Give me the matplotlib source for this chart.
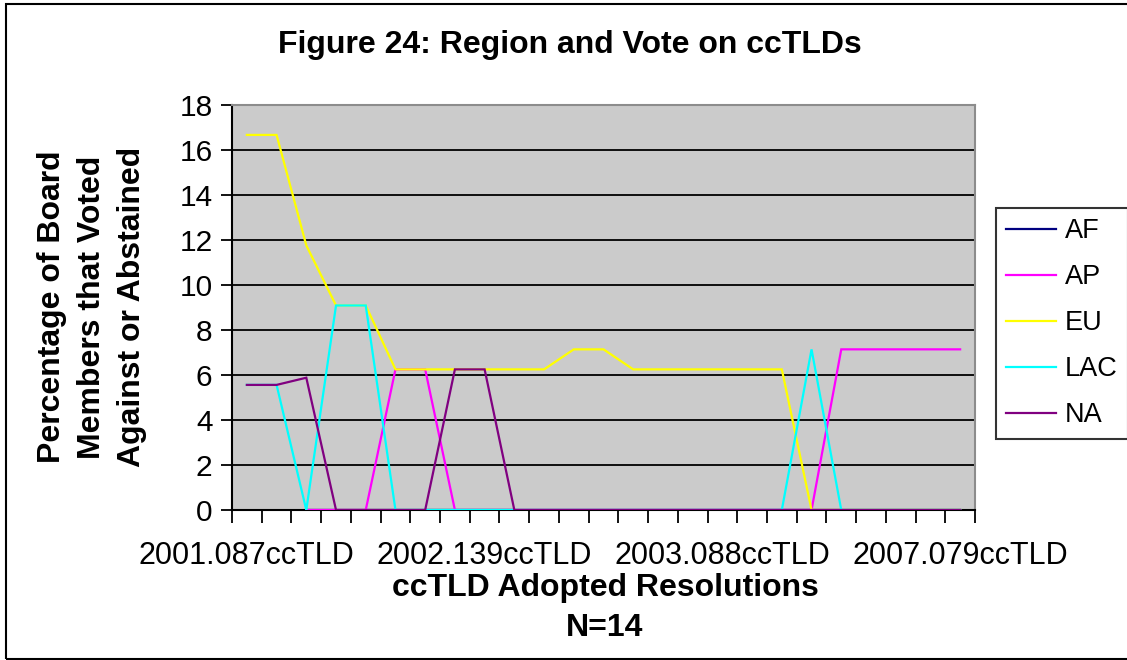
import numpy as np
import matplotlib
matplotlib.use("Agg")
import matplotlib.pyplot as plt
from matplotlib.patches import Rectangle
from matplotlib.lines import Line2D

plt.rcParams['font.family'] = ['Liberation Sans', 'DejaVu Sans']

# 25 resolutions along the x axis; only every eighth one is labelled
n_points = 25
tick_positions = [0, 8, 16, 24]
tick_labels = ["2001.087ccTLD", "2002.139ccTLD", "2003.088ccTLD", "2007.079ccTLD"]

nan = np.nan
series_names = ["AF", "AP", "EU", "LAC", "NA"]
series_colors = ["#000080", "#FF00FF", "#FFFF00", "#00FFFF", "#800080"]

AF = [nan, nan, 0, 0, 0, 0, 0, 0, 0, 0, 0, 0, 0, 0, 0, 0, 0, 0, 0, 0, 0, 0, 0, 0, 0]
AP = [nan, nan, 0, 0, 0, 6.25, 6.25, 0, 0, 0, 0, 0, 0, 0, 0, 0, 0, 0, 0, 0,
      7.14, 7.14, 7.14, 7.14, 7.14]
EU = [16.67, 16.67, 11.76, 9.09, 9.09, 6.25, 6.25, 6.25, 6.25, 6.25, 6.25, 7.14, 7.14,
      6.25, 6.25, 6.25, 6.25, 6.25, 6.25, 0, 0, 0, 0, 0, 0]
LAC = [5.56, 5.56, 0, 9.09, 9.09, 0, 0, 0, 0, 0, 0, 0, 0, 0, 0, 0, 0, 0, 0,
       7.14, 0, 0, 0, 0, 0]
NA = [5.56, 5.56, 5.88, 0, 0, 0, 0, 6.25, 6.25, 0, 0, 0, 0, 0, 0, 0, 0, 0, 0, 0,
      0, 0, 0, 0, 0]
series_values = [AF, AP, EU, LAC, NA]

W, H = 1127, 660
fig = plt.figure(figsize=(W / 100, H / 100), dpi=100)
fig.patch.set_facecolor("white")

ax = fig.add_axes([232 / W, 1 - 510 / H, (975 - 232) / W, (510 - 105) / H])
ax.set_facecolor("#CBCBCB")

x = np.arange(n_points)
for name, vals, col in zip(series_names, series_values, series_colors):
    ax.plot(x, vals, color=col, lw=1.6, label=name, zorder=3, solid_joinstyle="miter")

ax.set_xlim(-0.5, n_points - 0.5)
ax.set_ylim(0, 18)
ax.set_yticks(np.arange(0, 19, 2))
ax.yaxis.grid(True, color="black", lw=1.3, zorder=1)
ax.set_axisbelow(True)
ax.tick_params(axis="y", direction="out", length=8, width=1.3, labelsize=21.5, pad=6)

ax.set_xticks(tick_positions)
ax.set_xticklabels(tick_labels, fontsize=22)
ax.tick_params(axis="x", which="major", length=0, pad=22)
ax.set_xticks(np.arange(-0.5, n_points, 1), minor=True)
ax.tick_params(axis="x", which="minor", direction="out", length=9, width=1.3)

for s in ["left", "bottom"]:
    ax.spines[s].set_color("black")
    ax.spines[s].set_linewidth(1.5)
for s in ["top", "right"]:
    ax.spines[s].set_color("#8C8C8C")
    ax.spines[s].set_linewidth(1.5)

fig.text(570 / W, 1 - 45 / H, "Figure 24: Region and Vote on ccTLDs",
         ha="center", va="center", fontsize=23, fontweight="bold")
fig.text(92 / W, 1 - 307 / H,
         "Percentage of Board\nMembers that Voted\nAgainst or Abstained",
         ha="center", va="center", rotation=90, multialignment="center",
         fontsize=23, fontweight="bold", linespacing=1.42)
fig.text(605 / W, 1 - 588 / H, "ccTLD Adopted Resolutions",
         ha="center", va="center", fontsize=23, fontweight="bold")
fig.text(605 / W, 1 - 628 / H, "N=14",
         ha="center", va="center", fontsize=23, fontweight="bold")

handles = [Line2D([], [], color=c, lw=1.6) for c in series_colors]
leg = fig.legend(handles, series_names, loc="upper left",
                 bbox_to_anchor=(996 / W, 1 - 208 / H), fontsize=19.5,
                 frameon=True, fancybox=False, edgecolor="black",
                 handlelength=1.85, handletextpad=0.3, labelspacing=0.74,
                 borderpad=0.38, borderaxespad=0)
leg.get_frame().set_linewidth(1.5)

# outer chart border (left, top and bottom edges)
fig.add_artist(Rectangle((6 / W, 1 - 659 / H), 1.2, (659 - 4) / H,
                         transform=fig.transFigure, fill=False,
                         edgecolor="black", lw=1.5, clip_on=True))

fig.savefig("out.png", dpi=100)
